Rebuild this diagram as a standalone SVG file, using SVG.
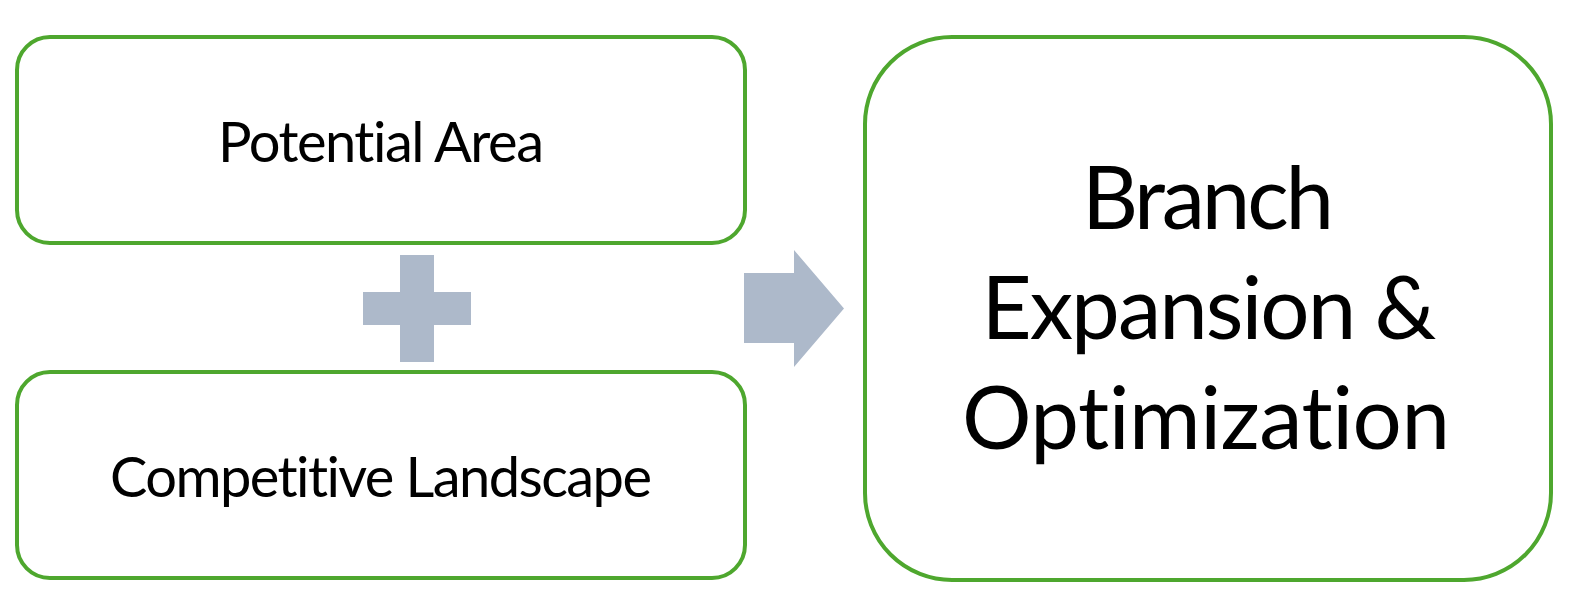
<svg xmlns="http://www.w3.org/2000/svg" width="1582" height="616" viewBox="0 0 1582 616">
  <style>
    .box { fill: #FFFFFF; stroke: #4EA72E; stroke-width: 4; }
    .shape { fill: #ADB9CA; stroke: none; }
    .lbl { font-family: Lato, "Liberation Sans", sans-serif; fill: #000000; text-anchor: middle; font-variant-ligatures: none; }
    .small { font-size: 56px; }
    .big { font-size: 87px; }
  </style>
  <rect width="1582" height="616" fill="#FFFFFF"/>
  <g id="node-potential-area">
    <rect class="box" x="17" y="37" width="728" height="206" rx="33" ry="33"/>
    <text class="lbl small" x="381" y="162" textLength="326" lengthAdjust="spacing">Potential Area</text>
  </g>
  <g id="node-competitive-landscape">
    <rect class="box" x="17" y="372" width="728" height="206" rx="33" ry="33"/>
    <text class="lbl small" x="381" y="497" textLength="542" lengthAdjust="spacing">Competitive Landscape</text>
  </g>
  <g id="node-branch-expansion">
    <rect class="box" x="865" y="37" width="686" height="543" rx="87" ry="87"/>
    <text class="lbl big" x="1208" y="229" textLength="252" lengthAdjust="spacing">Branch</text>
    <text class="lbl big" x="1209" y="339" textLength="455" lengthAdjust="spacing">Expansion &amp;</text>
    <text class="lbl big" x="1206" y="449" textLength="488" lengthAdjust="spacing">Optimization</text>
  </g>
  <g id="connectors">
    <path id="plus" class="shape" d="M400,255 H434 V292 H471 V325 H434 V362 H400 V325 H363 V292 H400 Z"/>
    <polygon id="arrow" class="shape" points="744,273 794,273 794,250 844,308.5 794,367 794,343 744,343"/>
  </g>
</svg>
